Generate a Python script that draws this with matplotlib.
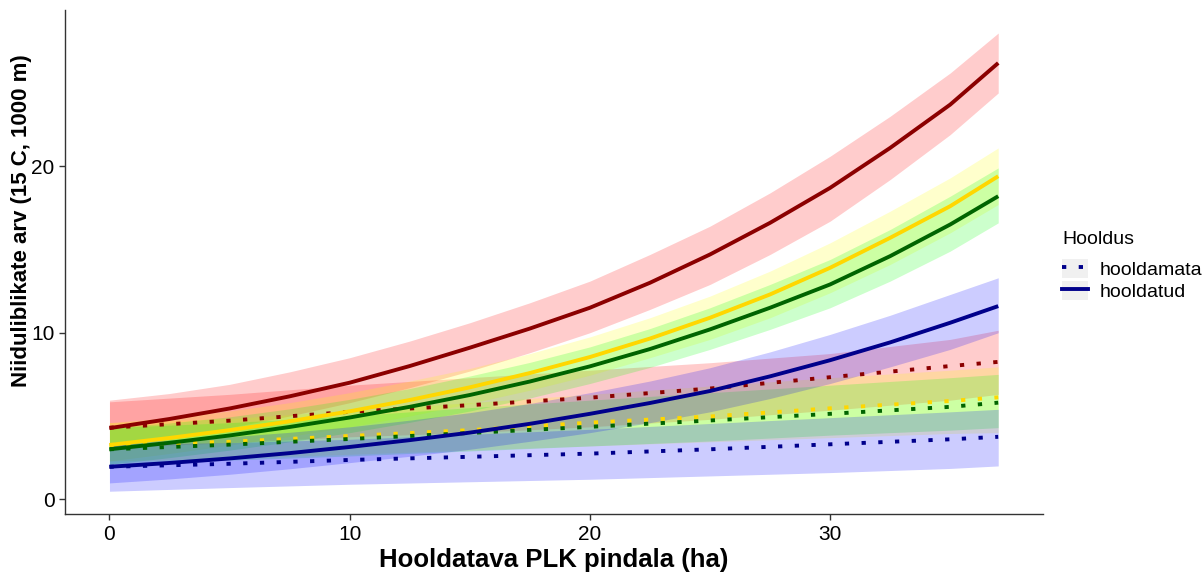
import matplotlib.pyplot as plt
from matplotlib.lines import Line2D
from matplotlib.patches import Patch

plt.rcParams['font.family'] = ['Liberation Sans', 'DejaVu Sans']

x_fine = [0, 2.5, 5, 7.5, 10, 12.5, 15, 17.5, 20, 22.5, 25, 27.5, 30, 32.5, 35, 37]
x = [0, 5, 10, 15, 20, 25, 30, 35, 37]

# hooldatud (solid), on x_fine
red_fit = [4.27, 4.82, 5.45, 6.18, 7.0, 8.0, 9.1, 10.25, 11.5, 13.0, 14.7, 16.6, 18.7, 21.1, 23.7, 26.2]
red_lo = [3.1, 3.7, 4.3, 5.0, 5.8, 6.7, 7.7, 8.8, 10.0, 11.4, 12.9, 14.7, 16.7, 19.2, 21.9, 24.4]
red_hi = [5.95, 6.35, 6.9, 7.65, 8.5, 9.5, 10.6, 11.8, 13.1, 14.7, 16.4, 18.4, 20.6, 23.0, 25.6, 28.0]

yel_fit = [3.26, 3.68, 4.15, 4.68, 5.28, 5.96, 6.72, 7.58, 8.54, 9.65, 10.9, 12.3, 13.9, 15.7, 17.6, 19.4]
yel_lo = [2.3, 2.75, 3.25, 3.78, 4.35, 5.0, 5.75, 6.55, 7.45, 8.5, 9.6, 10.9, 12.4, 14.1, 16.0, 17.7]
yel_hi = [4.6, 4.9, 5.3, 5.8, 6.4, 7.1, 7.85, 8.75, 9.75, 10.9, 12.2, 13.7, 15.4, 17.3, 19.3, 21.1]

grn_fit = [3.0, 3.39, 3.83, 4.34, 4.91, 5.55, 6.26, 7.07, 7.98, 9.02, 10.2, 11.5, 12.9, 14.6, 16.5, 18.2]
grn_lo = [2.1, 2.5, 2.95, 3.45, 4.0, 4.62, 5.3, 6.08, 6.95, 7.92, 9.0, 10.2, 11.5, 13.1, 14.9, 16.6]
grn_hi = [4.3, 4.58, 4.95, 5.43, 6.0, 6.65, 7.4, 8.22, 9.15, 10.25, 11.5, 12.9, 14.4, 16.2, 18.2, 19.9]

blu_fit = [1.95, 2.18, 2.45, 2.77, 3.14, 3.55, 4.0, 4.53, 5.13, 5.78, 6.5, 7.38, 8.35, 9.42, 10.6, 11.6]
blu_lo = [0.98, 1.22, 1.5, 1.83, 2.2, 2.58, 3.0, 3.48, 4.0, 4.6, 5.25, 6.05, 6.95, 7.95, 9.0, 10.0]
blu_hi = [3.4, 3.55, 3.75, 4.02, 4.35, 4.75, 5.2, 5.75, 6.4, 7.1, 7.9, 8.85, 9.9, 11.05, 12.3, 13.3]

# hooldamata (dotted), on x
red_fit_u = [4.3, 4.72, 5.25, 5.65, 6.1, 6.65, 7.33, 8.0, 8.25]
red_lo_u = [3.1, 3.4, 3.75, 4.0, 4.35, 4.8, 5.35, 5.95, 6.3]
red_hi_u = [5.85, 6.3, 6.85, 7.3, 7.75, 8.2, 8.75, 9.6, 10.15]

yel_fit_u = [3.26, 3.45, 3.8, 4.15, 4.6, 4.97, 5.46, 5.9, 6.12]
yel_lo_u = [2.3, 2.45, 2.7, 2.95, 3.2, 3.45, 3.7, 3.95, 4.0]
yel_hi_u = [4.6, 4.85, 5.3, 5.8, 6.3, 6.8, 7.3, 7.75, 7.95]

grn_fit_u = [3.0, 3.28, 3.62, 3.98, 4.35, 4.73, 5.13, 5.55, 5.8]
grn_lo_u = [2.1, 2.35, 2.6, 2.9, 3.2, 3.5, 3.85, 4.15, 4.3]
grn_hi_u = [4.3, 4.6, 5.0, 5.5, 5.95, 6.4, 6.85, 7.3, 7.5]

blu_fit_u = [1.95, 2.13, 2.36, 2.55, 2.74, 3.0, 3.3, 3.6, 3.75]
blu_lo_u = [0.48, 0.7, 0.9, 1.05, 1.2, 1.4, 1.6, 1.85, 2.0]
blu_hi_u = [3.3, 3.4, 3.6, 3.9, 4.2, 4.55, 4.9, 5.25, 5.4]

series = [
    # x, fit, lo, hi, line colour, fill colour, dotted?
    (x, red_fit_u, red_lo_u, red_hi_u, 'darkred', 'red', True),
    (x_fine, red_fit, red_lo, red_hi, 'darkred', 'red', False),
    (x, yel_fit_u, yel_lo_u, yel_hi_u, 'gold', 'yellow', True),
    (x_fine, yel_fit, yel_lo, yel_hi, 'gold', 'yellow', False),
    (x, grn_fit_u, grn_lo_u, grn_hi_u, 'darkgreen', '#00FF00', True),
    (x_fine, grn_fit, grn_lo, grn_hi, 'darkgreen', '#00FF00', False),
    (x, blu_fit_u, blu_lo_u, blu_hi_u, 'darkblue', 'blue', True),
    (x_fine, blu_fit, blu_lo, blu_hi, 'darkblue', 'blue', False),
]

dotted = (0, (1.1, 3.2))

fig = plt.figure(figsize=(12.04, 5.72), dpi=100)
ax = fig.add_axes([0.054, 0.101, 0.812, 0.882])

for xs, fit, lo, hi, lc, fc, dot in series:
    ax.fill_between(xs, lo, hi, color=fc, alpha=0.2, linewidth=0)

for xs, fit, lo, hi, lc, fc, dot in series:
    if dot:
        ax.plot(xs, fit, color=lc, lw=2.8, linestyle=dotted, dash_capstyle='butt')
    else:
        ax.plot(xs, fit, color=lc, lw=2.8, solid_capstyle='butt')

ax.set_xlim(-1.85, 38.85)
ax.set_ylim(-0.9, 29.4)
ax.set_xticks([0, 10, 20, 30])
ax.set_yticks([0, 10, 20])
ax.spines['top'].set_visible(False)
ax.spines['right'].set_visible(False)
for s in ['left', 'bottom']:
    ax.spines[s].set_color('#333333')
    ax.spines[s].set_linewidth(1.0)
ax.tick_params(colors='#333333', labelcolor='black', labelsize=15, length=4, width=1.0)

ax.set_xlabel('Hooldatava PLK pindala (ha)', fontsize=18.5, fontweight='bold', labelpad=3)
fig.text(0.0175, 0.614, 'Niiduliblikate arv (15 C, 1000 m)', rotation=90,
         ha='center', va='center', fontsize=16, fontweight='bold')

key_bg = Patch(facecolor='#f0f0f0', edgecolor='none')
h_dot = Line2D([], [], color='darkblue', lw=2.8, linestyle=dotted, dash_capstyle='butt')
h_sol = Line2D([], [], color='darkblue', lw=2.8)
leg = fig.legend([(key_bg, h_dot), (key_bg, h_sol)], ['hooldamata', 'hooldatud'],
                 title='Hooldus', loc='center left', bbox_to_anchor=(0.876, 0.535),
                 frameon=False, fontsize=14, title_fontsize=14,
                 handlelength=1.3, handleheight=1.1, handletextpad=0.6,
                 labelspacing=0.1, borderaxespad=0)
leg._legend_box.align = 'left'
leg._legend_box.sep = 8

fig.savefig('out.png', dpi=100)
